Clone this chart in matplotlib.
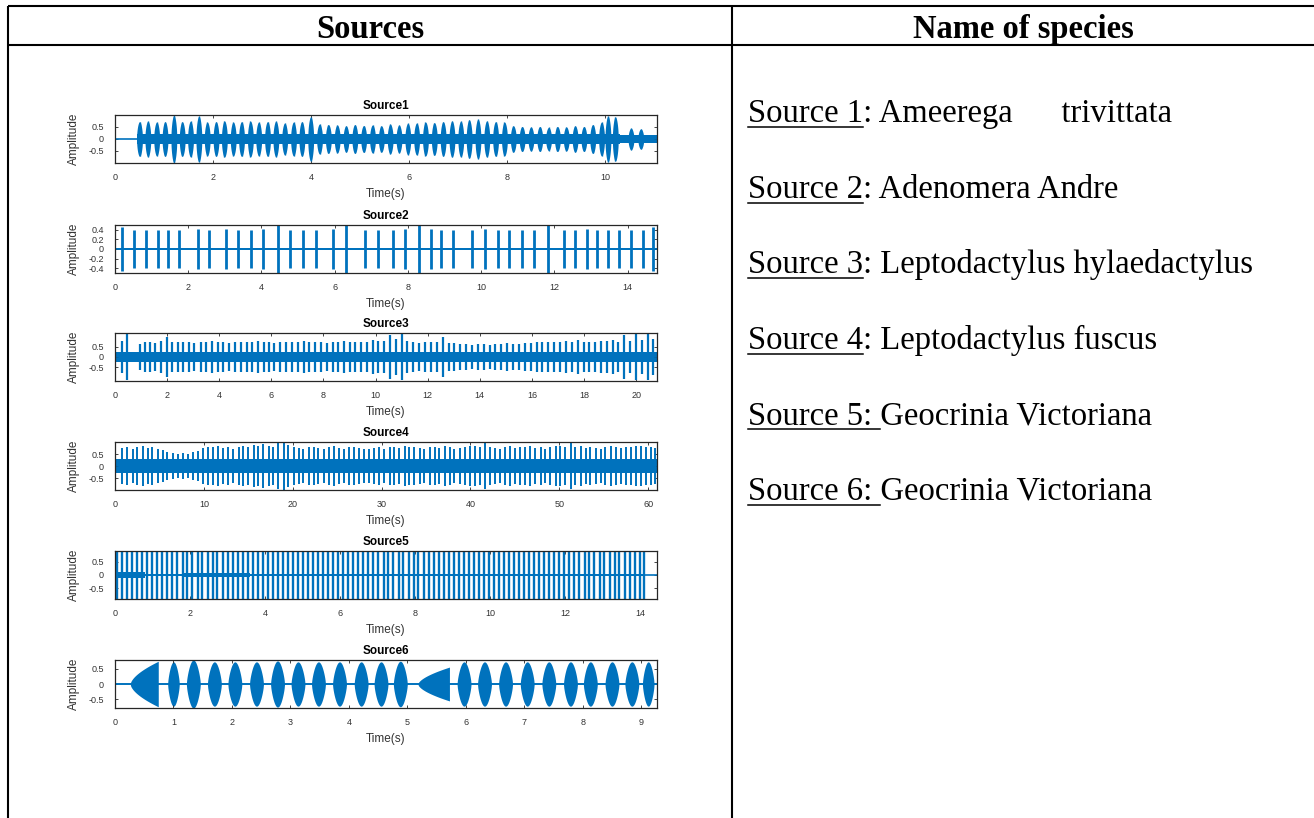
import numpy as np
import matplotlib
matplotlib.use('Agg')
import matplotlib.pyplot as plt

plt.rcParams['axes.unicode_minus'] = False
plt.rcParams['font.family'] = 'Liberation Sans'

W, H = 1314, 818
BLUE = '#0072BD'
EDGE = '#262626'

# table text
HEADERS = ['Sources', 'Name of species']
SOURCE_TAGS = ['Source 1', 'Source 2', 'Source 3', 'Source 4', 'Source 5', 'Source 6']
SPECIES = ['Ameerega      trivittata', 'Adenomera Andre', 'Leptodactylus hylaedactylus',
           'Leptodactylus fuscus', 'Geocrinia Victoriana', 'Geocrinia Victoriana']
UNDERLINE_COLON = [False, False, False, False, True, True]

# per-source axis settings
TITLES = ['Source1', 'Source2', 'Source3', 'Source4', 'Source5', 'Source6']
DURATIONS = [11.05, 14.8, 20.8, 61.0, 14.45, 9.27]
YLIMS = [1.0, 0.5, 1.15, 1.0, 0.92, 0.78]
XTICKS = [[0, 2, 4, 6, 8, 10],
          [0, 2, 4, 6, 8, 10, 12, 14],
          [0, 2, 4, 6, 8, 10, 12, 14, 16, 18, 20],
          [0, 10, 20, 30, 40, 50, 60],
          [0, 2, 4, 6, 8, 10, 12, 14],
          [0, 1, 2, 3, 4, 5, 6, 7, 8, 9]]
YTICKS = [[-0.5, 0, 0.5],
          [-0.4, -0.2, 0, 0.2, 0.4],
          [-0.5, 0, 0.5],
          [-0.5, 0, 0.5],
          [-0.5, 0, 0.5],
          [-0.5, 0, 0.5]]

# Source 1: call pulses (time, peak amplitude) and noise floor segments
S1_T = [0.50, 0.67, 0.85, 1.02, 1.20, 1.37, 1.54, 1.71, 1.88, 2.06,
        2.23, 2.41, 2.58, 2.76, 2.93, 3.11, 3.28, 3.46, 3.64, 3.81,
        3.99, 4.17, 4.35, 4.53, 4.71, 4.89, 5.07, 5.25, 5.43, 5.61,
        5.79, 5.97, 6.15, 6.33, 6.51, 6.69, 6.87, 7.05, 7.22, 7.40,
        7.58, 7.76, 7.94, 8.12, 8.30, 8.48, 8.66, 8.84, 9.02, 9.20,
        9.38, 9.56, 9.74, 9.92, 10.05, 10.20, 10.52, 10.72]
S1_A = [0.72, 0.74, 0.70, 0.72, 0.98, 0.72, 0.74, 0.95, 0.70, 0.72,
        0.75, 0.70, 0.72, 0.74, 0.70, 0.72, 0.74, 0.66, 0.70, 0.72,
        0.92, 0.62, 0.60, 0.58, 0.55, 0.60, 0.56, 0.58, 0.55, 0.62,
        0.58, 0.65, 0.66, 0.70, 0.68, 0.72, 0.75, 0.74, 0.80, 0.82,
        0.75, 0.72, 0.70, 0.55, 0.52, 0.50, 0.52, 0.48, 0.52, 0.50,
        0.55, 0.52, 0.60, 0.70, 0.95, 0.92, 0.45, 0.42]
S1_BG = [(0.45, 10.30, 0.22), (10.30, 11.05, 0.15)]

# Source 2
S2_T = [0.19, 0.52, 0.84, 1.17, 1.46, 1.76, 2.28, 2.57, 3.04, 3.36,
        3.71, 4.03, 4.44, 4.79, 5.14, 5.49, 5.96, 6.32, 6.84, 7.17,
        7.60, 7.92, 8.30, 8.63, 8.90, 9.22, 9.76, 10.11, 10.46, 10.77,
        11.11, 11.44, 11.82, 12.25, 12.57, 12.90, 13.17, 13.47, 13.76, 14.09,
        14.41, 14.68]
S2_A = [0.45, 0.40, 0.40, 0.40, 0.40, 0.40, 0.42, 0.40, 0.42, 0.40,
        0.40, 0.42, 0.50, 0.40, 0.40, 0.40, 0.42, 0.50, 0.40, 0.40,
        0.40, 0.42, 0.50, 0.42, 0.40, 0.40, 0.40, 0.42, 0.40, 0.40,
        0.40, 0.40, 0.50, 0.40, 0.40, 0.42, 0.40, 0.40, 0.40, 0.40,
        0.40, 0.45]
S2_BG = [(0.0, 14.8, 0.02)]

# Source 3
S3_T = [0.25, 0.45, 0.95, 1.15, 1.35, 1.55, 1.78, 2.00, 2.20, 2.42,
        2.62, 2.85, 3.05, 3.30, 3.50, 3.72, 3.95, 4.15, 4.38, 4.60,
        4.82, 5.05, 5.25, 5.48, 5.70, 5.92, 6.12, 6.35, 6.58, 6.80,
        7.02, 7.25, 7.45, 7.68, 7.90, 8.12, 8.35, 8.55, 8.78, 9.00,
        9.22, 9.45, 9.68, 9.90, 10.10, 10.32, 10.55, 10.78, 11.00, 11.22,
        11.45, 11.68, 11.90, 12.12, 12.35, 12.58, 12.80, 13.02, 13.25, 13.48,
        13.70, 13.92, 14.15, 14.38, 14.60, 14.82, 15.05, 15.28, 15.50, 15.72,
        15.95, 16.18, 16.40, 16.62, 16.85, 17.08, 17.30, 17.52, 17.75, 17.98,
        18.20, 18.42, 18.65, 18.88, 19.10, 19.32, 19.55, 19.78, 20.00, 20.22,
        20.45, 20.65]
S3_A = [0.75, 1.10, 0.60, 0.70, 0.72, 0.68, 0.75, 0.95, 0.70, 0.72,
        0.70, 0.74, 0.68, 0.72, 0.70, 0.75, 0.70, 0.72, 0.68, 0.74,
        0.70, 0.72, 0.70, 0.75, 0.70, 0.72, 0.68, 0.74, 0.70, 0.72,
        0.70, 0.75, 0.72, 0.70, 0.74, 0.68, 0.72, 0.70, 0.75, 0.70,
        0.72, 0.74, 0.70, 0.80, 0.75, 0.78, 1.05, 0.85, 1.10, 0.75,
        0.70, 0.68, 0.72, 0.70, 0.72, 0.95, 0.68, 0.65, 0.62, 0.60,
        0.58, 0.60, 0.62, 0.58, 0.60, 0.62, 0.65, 0.62, 0.60, 0.65,
        0.68, 0.72, 0.70, 0.74, 0.72, 0.70, 0.75, 0.72, 0.80, 0.74,
        0.72, 0.70, 0.75, 0.78, 0.80, 0.72, 1.05, 0.78, 1.10, 0.80,
        1.10, 0.85]
S3_BG = [(0.0, 20.8, 0.26)]

# Source 4
S4_T = [0.8, 1.4, 2.0, 2.5, 3.1, 3.7, 4.2, 4.8, 5.4, 5.9,
        6.5, 7.1, 7.6, 8.2, 8.8, 9.3, 9.9, 10.5, 11.0, 11.6,
        12.2, 12.7, 13.3, 13.9, 14.4, 15.0, 15.6, 16.1, 16.7, 17.3,
        17.8, 18.4, 19.0, 19.5, 20.1, 20.7, 21.2, 21.8, 22.4, 22.9,
        23.5, 24.1, 24.6, 25.2, 25.8, 26.3, 26.9, 27.5, 28.0, 28.6,
        29.2, 29.7, 30.3, 30.9, 31.4, 32.0, 32.6, 33.1, 33.7, 34.3,
        34.8, 35.4, 36.0, 36.5, 37.1, 37.7, 38.2, 38.8, 39.4, 39.9,
        40.5, 41.1, 41.6, 42.2, 42.8, 43.3, 43.9, 44.5, 45.0, 45.6,
        46.2, 46.7, 47.3, 47.9, 48.4, 49.0, 49.6, 50.1, 50.7, 51.3,
        51.8, 52.4, 53.0, 53.5, 54.1, 54.7, 55.2, 55.8, 56.4, 56.9,
        57.5, 58.1, 58.6, 59.2, 59.8, 60.3, 60.8]
S4_A = [0.75, 0.80, 0.72, 0.78, 0.82, 0.75, 0.80, 0.70, 0.65, 0.60,
        0.55, 0.50, 0.55, 0.50, 0.58, 0.62, 0.75, 0.80, 0.78, 0.82,
        0.75, 0.80, 0.72, 0.78, 0.85, 0.80, 0.88, 0.82, 0.90, 0.85,
        0.80, 0.95, 1.00, 0.88, 0.80, 0.75, 0.72, 0.78, 0.80, 0.75,
        0.72, 0.78, 0.82, 0.75, 0.70, 0.78, 0.80, 0.75, 0.72, 0.70,
        0.75, 0.80, 0.72, 0.78, 0.80, 0.75, 0.82, 0.78, 0.80, 0.76,
        0.72, 0.78, 0.80, 0.75, 0.82, 0.78, 0.72, 0.75, 0.80, 0.85,
        0.82, 0.78, 0.95, 0.80, 0.76, 0.72, 0.78, 0.82, 0.75, 0.80,
        0.78, 0.82, 0.76, 0.80, 0.72, 0.78, 0.82, 0.85, 0.80, 0.95,
        0.78, 0.82, 0.76, 0.80, 0.75, 0.72, 0.78, 0.82, 0.80, 0.76,
        0.80, 0.78, 0.82, 0.85, 0.80, 0.78, 0.75]
S4_BG = [(0.0, 61.0, 0.30)]

# Source 5: evenly repeated clicks, all clipping the axis
S5_T = [0.05, 0.19, 0.32, 0.46, 0.59, 0.72, 0.86, 0.99, 1.13, 1.26,
        1.39, 1.53, 1.66, 1.80, 1.93, 2.06, 2.20, 2.33, 2.47, 2.60,
        2.73, 2.87, 3.00, 3.14, 3.27, 3.40, 3.54, 3.67, 3.81, 3.94,
        4.07, 4.21, 4.34, 4.48, 4.61, 4.74, 4.88, 5.01, 5.15, 5.28,
        5.41, 5.55, 5.68, 5.82, 5.95, 6.08, 6.22, 6.35, 6.49, 6.62,
        6.75, 6.89, 7.02, 7.16, 7.29, 7.42, 7.56, 7.69, 7.83, 7.96,
        8.09, 8.23, 8.36, 8.50, 8.63, 8.76, 8.90, 9.03, 9.17, 9.30,
        9.43, 9.57, 9.70, 9.84, 9.97, 10.10, 10.24, 10.37, 10.51, 10.64,
        10.77, 10.91, 11.04, 11.18, 11.31, 11.44, 11.58, 11.71, 11.85, 11.98,
        12.11, 12.25, 12.38, 12.52, 12.65, 12.78, 12.92, 13.05, 13.19, 13.32,
        13.45, 13.59, 13.72, 13.86, 13.99, 14.10]
S5_A = [1.0] * len(S5_T)
S5_BG = [(0.05, 0.80, 0.10), (0.80, 1.80, 0.04), (1.80, 3.60, 0.08), (3.60, 14.10, 0.03)]

# Source 6: long notes (start, end, peak, envelope kind)
S6_START = [0.26, 0.90, 1.22, 1.58, 1.93, 2.30, 2.66, 3.01, 3.36, 3.72, 4.09, 4.43,
            4.76, 5.18, 5.85, 6.20, 6.56, 6.93, 7.30, 7.67, 8.01, 8.38, 8.72, 9.02]
S6_END = [0.74, 1.10, 1.46, 1.82, 2.17, 2.54, 2.90, 3.25, 3.60, 3.96, 4.33, 4.67,
          5.00, 5.72, 6.09, 6.44, 6.80, 7.17, 7.54, 7.91, 8.25, 8.62, 8.96, 9.22]
S6_PEAK = [0.74, 0.72, 0.78, 0.72, 0.72, 0.72, 0.75, 0.72, 0.72, 0.72, 0.72, 0.72,
           0.74, 0.55, 0.72, 0.72, 0.72, 0.72, 0.72, 0.72, 0.72, 0.72, 0.72, 0.72]
S6_KIND = ['ramp'] + ['lens'] * 12 + ['ramp'] + ['lens'] * 10

PULSES = [(S1_T, S1_A, S1_BG), (S2_T, S2_A, S2_BG), (S3_T, S3_A, S3_BG),
          (S4_T, S4_A, S4_BG), (S5_T, S5_A, S5_BG)]
# pulse drawn as a spindle of this many seconds, or as a plain stroke when None
PULSE_SPAN = [0.12, None, None, None, None]
PULSE_LW = [1.0, 2.0, 1.6, 1.4, 1.7]

# layout in pixels
AX_LEFT, AX_W, AX_H = 115, 542, 48
AX_TOPS = [115, 225, 333, 442, 551, 660]
TEXT_X = 748
ROW_Y0, ROW_STEP = 122, 75.6

fig = plt.figure(figsize=(W / 100, H / 100), dpi=100)

# overlay in pixel units for the table frame and right column
ov = fig.add_axes([0, 0, 1, 1])
ov.set_xlim(0, W)
ov.set_ylim(H, 0)
ov.axis('off')

line_kw = dict(color='black', lw=1.5, solid_capstyle='butt', clip_on=False)
ov.plot([8, W], [6, 6], **line_kw)
ov.plot([8, W], [45, 45], **line_kw)
ov.plot([8, 8], [6, H], **line_kw)
ov.plot([732, 732], [6, H], **line_kw)

serif = dict(family='Liberation Serif', fontsize=23.5, color='black', va='baseline')
ov.text(370, 38, HEADERS[0], ha='center', fontweight='bold', **serif)
ov.text(1023, 38, HEADERS[1], ha='center', fontweight='bold', **serif)

renderer = fig.canvas.get_renderer()


def text_width(s):
    probe = ov.text(0, 0, s, **serif)
    w = probe.get_window_extent(renderer).width
    probe.remove()
    return w


for i, (tag, name) in enumerate(zip(SOURCE_TAGS, SPECIES)):
    y = ROW_Y0 + i * ROW_STEP
    line = tag + ': ' + name
    ov.text(TEXT_X, y, line, **serif)
    if UNDERLINE_COLON[i]:
        end = TEXT_X + text_width(line) - text_width(name)
    else:
        end = TEXT_X + text_width(tag)
    ov.plot([TEXT_X, end], [y + 5, y + 5], color='black', lw=1.1)


def make_axes(i):
    top = AX_TOPS[i]
    ax = fig.add_axes([AX_LEFT / W, 1 - (top + AX_H) / H, AX_W / W, AX_H / H])
    ax.set_xlim(0, DURATIONS[i])
    ax.set_ylim(-YLIMS[i], YLIMS[i])
    ax.set_xticks(XTICKS[i])
    ax.set_xticklabels(['%g' % v for v in XTICKS[i]])
    ax.set_yticks(YTICKS[i])
    ax.set_yticklabels(['%g' % v for v in YTICKS[i]])
    ax.tick_params(direction='in', top=True, right=True, length=2.5, width=0.6,
                   labelsize=6.5, color=EDGE, labelcolor='#333333')
    ax.tick_params(axis='x', pad=7)
    ax.tick_params(axis='y', pad=8)
    for sp in ax.spines.values():
        sp.set_color(EDGE)
        sp.set_linewidth(0.9)
    ax.set_title(TITLES[i], fontsize=8.5, fontweight='bold', pad=4)
    ax.set_xlabel('Time(s)', fontsize=8.5, color='#333333')
    ax.set_ylabel('Amplitude', fontsize=8.5, color='#333333')
    ax.yaxis.set_label_coords(-0.064, 0.5)
    ax.xaxis.set_label_coords(0.5, -0.52)
    return ax


def spindle(ax, start, end, peak, power):
    x = np.linspace(start, end, 40)
    env = peak * np.sin(np.pi * (x - start) / (end - start)) ** power
    ax.fill_between(x, -env, env, color=BLUE, lw=0)


for i, (times, amps, bg) in enumerate(PULSES):
    ax = make_axes(i)
    ax.plot([0, DURATIONS[i]], [0, 0], color=BLUE, lw=1.2)
    for s, e, lvl in bg:
        ax.fill_between([s, e], -lvl, lvl, color=BLUE, lw=0)
    if PULSE_SPAN[i]:
        half = PULSE_SPAN[i] / 2
        for t, a in zip(times, amps):
            spindle(ax, t - half, t + half, a, 0.5)
        ax.vlines(times, -np.array(amps), np.array(amps), color=BLUE, lw=PULSE_LW[i])
    else:
        ax.vlines(times, -np.array(amps), np.array(amps), color=BLUE, lw=PULSE_LW[i])

ax = make_axes(5)
ax.plot([0, DURATIONS[5]], [0, 0], color=BLUE, lw=1.4)
for s, e, a, kind in zip(S6_START, S6_END, S6_PEAK, S6_KIND):
    if kind == 'ramp':
        x = np.linspace(s, e, 60)
        env = a * ((x - s) / (e - s)) ** 0.6
        ax.fill_between(x, -env, env, color=BLUE, lw=0)
    else:
        spindle(ax, s, e, a, 0.7)

fig.savefig('out.png', dpi=100)
